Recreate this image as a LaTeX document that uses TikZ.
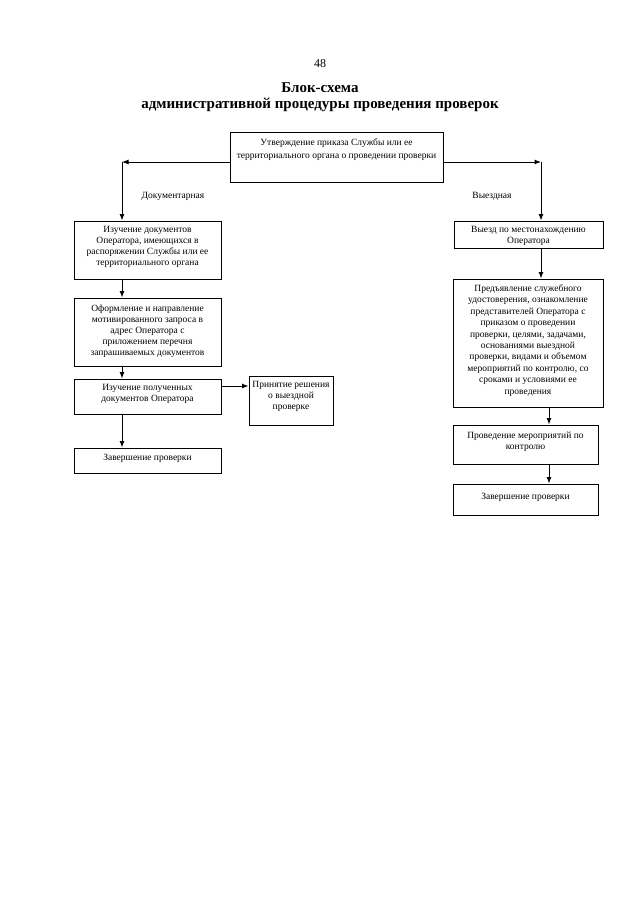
\documentclass[tikz,border=0pt]{standalone}
\usepackage{fontspec}
\setmainfont{Liberation Serif}
\usetikzlibrary{arrows.meta,fit}
\begin{document}
\begin{tikzpicture}[x=1pt,y=-1pt,
  box/.style={draw=black,line width=1pt,inner sep=0pt},
  txt/.style={inner sep=0pt,anchor=north,align=center,font=\fontsize{9.5}{11}\selectfont,execute at begin node={\rule{0pt}{8pt}}},
  lbl/.style={inner sep=0pt,font=\fontsize{9.5}{11}\selectfont},
  ttl/.style={inner sep=0pt,font=\fontsize{15}{17}\selectfont\bfseries},
  arr/.style={line width=1pt,-{Latex[length=6.5pt,width=5pt]}}]
\useasboundingbox (0,0) rectangle (640,905);

\node[inner sep=0pt,font=\fontsize{12}{14}\selectfont] (pg) at (320,64) {48};
\node[ttl] (t1) at (320,88) {Блок-схема};
\node[ttl] (t2) at (320,105) {административной процедуры проведения проверок};

% boxes
\node[box,fit={(230,132)(443,182)}] (T) {};
\node[box,fit={(74,221)(221,279)}] (L1) {};
\node[box,fit={(74,298)(221,366)}] (L2) {};
\node[box,fit={(74,379)(221,414)}] (L3) {};
\node[box,fit={(249,376)(333,425)}] (L4) {};
\node[box,fit={(74,448)(221,473)}] (L5) {};
\node[box,fit={(454,221)(603,248)}] (R1) {};
\node[box,fit={(453,279)(603,407)}] (R2) {};
\node[box,fit={(453,425)(598,464)}] (R3) {};
\node[box,fit={(453,484)(598,515)}] (R4) {};

% texts
\node[txt,font=\fontsize{9.5}{12.5}\selectfont] (Tt) at (336.5,138.5) {Утверждение приказа Службы или ее\\территориального органа о проведении проверки};
\node[txt] (L1t) at (147.5,226.5) {Изучение документов\\Оператора, имеющихся в\\распоряжении Службы или ее\\территориального органа};
\node[txt] (L2t) at (147.5,304.5) {Оформление и направление\\мотивированного запроса в\\адрес Оператора с\\приложением перечня\\запрашиваемых документов};
\node[txt] (L3t) at (147.5,384.5) {Изучение полученных\\документов Оператора};
\node[txt] (L4t) at (291,381.5) {Принятие решения\\о выездной\\проверке};
\node[txt] (L5t) at (147.5,452.5) {Завершение проверки};
\node[txt] (R1t) at (528.5,226.5) {Выезд по местонахождению\\Оператора};
\node[txt,font=\fontsize{9.5}{11.4}\selectfont] (R2t) at (528,284.5) {Предъявление служебного\\удостоверения, ознакомление\\представителей Оператора с\\приказом о проведении\\проверки, целями, задачами,\\основаниями выездной\\проверки, видами и объемом\\мероприятий по контролю, со\\сроками и условиями ее\\проведения};
\node[txt] (R3t) at (525.5,431.5) {Проведение мероприятий по\\контролю};
\node[txt] (R4t) at (525.5,491.5) {Завершение проверки};

\node[lbl] (lbD) at (173,196) {Документарная};
\node[lbl] (lbV) at (492,196) {Выездная};

% connectors
\coordinate (cl) at (122,162);
\coordinate (cr) at (541,162);
\coordinate (cr2) at (549,0);
\coordinate (ly) at (235,386);
\draw[arr] (T.west |- cl) -- (cl);
\draw[arr] (cl) -- (cl |- L1.north);
\draw[arr] (T.east |- cr) -- (cr);
\draw[arr] (cr) -- (cr |- R1.north);
\draw[arr] (cl |- L1.south) -- (cl |- L2.north);
\draw[arr] (cl |- L2.south) -- (cl |- L3.north);
\draw[arr] (cl |- L3.south) -- (cl |- L5.north);
\draw[arr] (L3.east |- ly) -- (L4.west |- ly);
\draw[arr] (cr |- R1.south) -- (cr |- R2.north);
\draw[arr] (cr2 |- R2.south) -- (cr2 |- R3.north);
\draw[arr] (cr2 |- R3.south) -- (cr2 |- R4.north);
\end{tikzpicture}
\end{document}
